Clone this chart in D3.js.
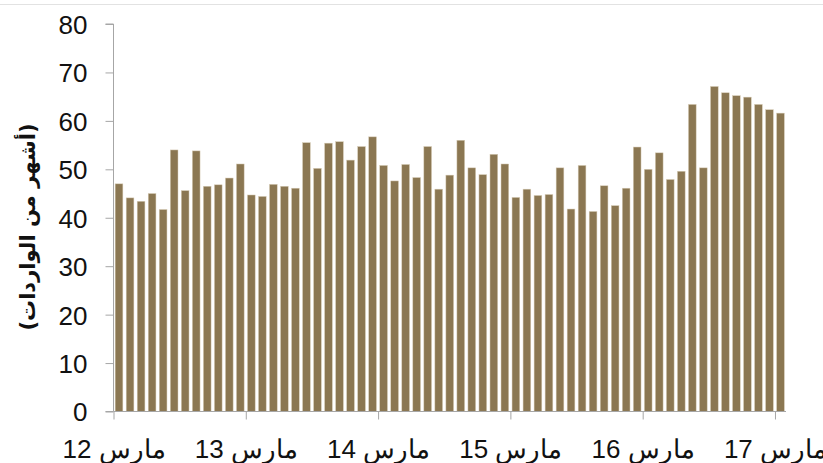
<!DOCTYPE html>
<html><head><meta charset="utf-8">
<script src="https://cdn.jsdelivr.net/npm/d3@7"></script>
<style>
html,body{margin:0;padding:0;background:#fff;}
svg{display:block;}
</style></head>
<body>
<svg id="chart" width="823" height="463"></svg>
<script>
// Months: March 2012 .. March 2017 (61 monthly bars)
const categories = [
 "2012-03","2012-04","2012-05","2012-06","2012-07","2012-08","2012-09","2012-10","2012-11","2012-12","2013-01","2013-02",
 "2013-03","2013-04","2013-05","2013-06","2013-07","2013-08","2013-09","2013-10","2013-11","2013-12","2014-01","2014-02",
 "2014-03","2014-04","2014-05","2014-06","2014-07","2014-08","2014-09","2014-10","2014-11","2014-12","2015-01","2015-02",
 "2015-03","2015-04","2015-05","2015-06","2015-07","2015-08","2015-09","2015-10","2015-11","2015-12","2016-01","2016-02",
 "2016-03","2016-04","2016-05","2016-06","2016-07","2016-08","2016-09","2016-10","2016-11","2016-12","2017-01","2017-02",
 "2017-03"
];
const values = [
 47.0,44.1,43.4,45.0,41.7,54.0,45.6,53.8,46.5,46.8,48.2,51.1,
 44.7,44.4,46.9,46.5,46.1,55.5,50.2,55.4,55.7,51.9,54.7,56.7,
 50.8,47.6,51.0,48.3,54.7,45.9,48.8,56.0,50.3,48.9,53.1,51.1,
 44.2,45.9,44.6,44.8,50.3,41.8,50.8,41.3,46.6,42.5,46.1,54.6,
 50.0,53.4,47.9,49.6,63.4,50.3,67.1,65.8,65.2,64.9,63.4,62.3,
 61.6
];
const yTicks = [0,10,20,30,40,50,60,70,80];
const xTickIndex = [0,12,24,36,48,60];
const xTickLabels = ["مارس 12","مارس 13","مارس 14","مارس 15","مارس 16","مارس 17"];
const yTitle = "(أشهر من الواردات)";

const svg = d3.select("#chart");
const x0 = 113.5, x1 = 786, yBottom = 411.5, yTop = 24;
const axisColor = "#a6a6a6";
const barColor = "#8b7752";

// faint top border line
svg.append("line").attr("x1",0).attr("x2",823).attr("y1",4.5).attr("y2",4.5)
  .attr("stroke","#e2e2e2").attr("stroke-width",1);

const x = d3.scaleBand().domain(categories).range([x0,x1]).paddingInner(0.3).paddingOuter(0.15);
const xEdge = d3.scaleLinear().domain([0,categories.length]).range([x0,x1]);
const y = d3.scaleLinear().domain([0,80]).range([yBottom,yTop]);

svg.append("g").selectAll("rect").data(values).join("rect")
  .attr("x",(d,i)=>x(categories[i]))
  .attr("width",x.bandwidth())
  .attr("y",d=>y(d))
  .attr("height",d=>y(0)-y(d))
  .attr("fill",barColor)
  .attr("stroke","#d8cdb8").attr("stroke-width",0.5);

// Y axis
const yAxis = d3.axisLeft(y).tickValues(yTicks).tickSize(8).tickPadding(18).tickFormat(d3.format("d"));
const gy = svg.append("g").attr("transform",`translate(${x0},0)`).call(yAxis);
gy.select(".domain").attr("stroke",axisColor).attr("d",`M-8,${yTop}H0V${yBottom}H-8`);
gy.selectAll(".tick line").attr("stroke",axisColor);
gy.selectAll(".tick text").attr("font-family","'Liberation Sans',Arial,sans-serif")
  .attr("font-size",26).attr("fill","#111").attr("dy","0.36em");

// X axis
const xAxis = d3.axisBottom(xEdge).tickValues(xTickIndex).tickSize(8).tickPadding(20)
  .tickFormat((d,i)=>xTickLabels[i]);
const gx = svg.append("g").attr("transform",`translate(0,${yBottom})`).call(xAxis);
gx.select(".domain").attr("stroke",axisColor).attr("d",`M${x0},0H${x1}`);
gx.selectAll(".tick line").attr("stroke",axisColor);
gx.selectAll(".tick text").attr("font-family","'Liberation Sans',Arial,sans-serif")
  .attr("font-size",26).attr("fill","#111").attr("direction","rtl")
  .attr("text-anchor","middle").attr("dy","0.71em");

// Y title
svg.append("text")
  .attr("transform","translate(28,227) rotate(-90)")
  .attr("text-anchor","middle").attr("dominant-baseline","central")
  .attr("direction","rtl")
  .attr("font-family","'DejaVu Sans','Noto Sans',sans-serif")
  .attr("font-weight","bold").attr("font-size",21).attr("fill","#111")
  .text(yTitle);
</script>
</body></html>
